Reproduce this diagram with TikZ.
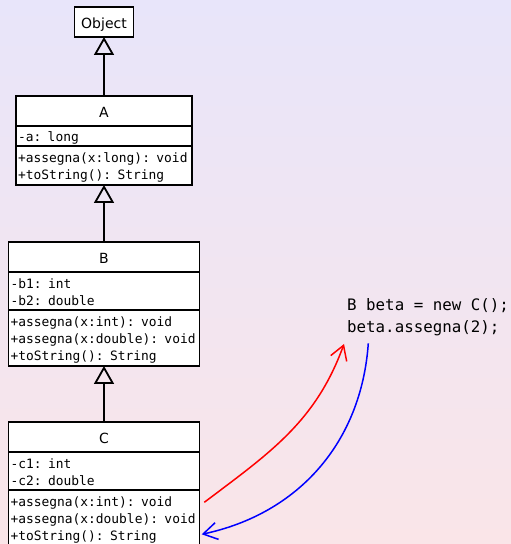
\documentclass[tikz,border=0pt]{standalone}
\usepackage{fontspec}
\setmainfont{DejaVu Sans}
\setmonofont{DejaVu Sans Mono}
\usepackage{tikz}
\usetikzlibrary{arrows.meta,calc,positioning}
\definecolor{bgtop}{HTML}{E8E5FA}
\definecolor{bgbottom}{HTML}{FAE5E8}
\definecolor{callred}{HTML}{FF0000}
\definecolor{callblue}{HTML}{0000FF}
\tikzset{
  classtitle/.style={
    draw=black,
    line width=1.8pt,
    fill=white,
    font=\fontsize{14}{17}\selectfont,
    text height=13pt,
    text depth=0pt,
    inner sep=0pt,
    outer sep=0pt,
    minimum height=30pt
  },
  classpart/.style={
    draw=black,
    line width=1.8pt,
    fill=white,
    align=left,
    font=\fontsize{12.9}{17}\selectfont\ttfamily,
    inner xsep=2pt,
    inner ysep=0pt,
    outer sep=0pt,
    execute at begin node={\rule{0pt}{14.5pt}},
    execute at end node={\rule[-2.5pt]{0pt}{2.5pt}}
  },
  generalization/.style={line width=1.8pt, draw=black, -{Triangle[open, length=18pt, width=20pt]}},
  callpath/.style={line width=1.5pt, -{Straight Barb[length=14pt, width=17pt]}},
  codetext/.style={font=\fontsize{15.8}{21.7}\selectfont\ttfamily, align=left, inner sep=0pt}
}

\begin{document}
\begin{tikzpicture}[x=1pt,y=1pt]
\useasboundingbox (0,0) rectangle (511,544);
\shade[top color=bgtop, bottom color=bgbottom] (0,0) rectangle (511,544);

% classes
\node[classtitle, minimum width=59pt, inner xsep=6pt] (object) at (104,522) {Object};

\node[classtitle, minimum width=176pt, anchor=north west] (a) at (16,448) {A};
\node[classpart, text width=172pt, minimum height=20pt, anchor=north west] (aattr) at (a.south west) {-a: long};
\node[classpart, text width=172pt, minimum height=39pt, anchor=north west] (ameth) at (aattr.south west) {+assegna(x:long): void\\+toString(): String};

\node[classtitle, minimum width=191pt, anchor=north west] (b) at (8.5,302) {B};
\node[classpart, text width=187pt, minimum height=38pt, anchor=north west] (battr) at (b.south west) {-b1: int\\-b2: double};
\node[classpart, text width=187pt, minimum height=56pt, anchor=north west] (bmeth) at (battr.south west) {+assegna(x:int): void\\+assegna(x:double): void\\+toString(): String};

\node[classtitle, minimum width=191pt, anchor=north west] (c) at (8.5,122) {C};
\node[classpart, text width=187pt, minimum height=38pt, anchor=north west] (cattr) at (c.south west) {-c1: int\\-c2: double};
\node[classpart, text width=187pt, minimum height=56pt, anchor=north west] (cmeth) at (cattr.south west) {+assegna(x:int): void\\+assegna(x:double): void\\+toString(): String};

\foreach \a/\b in {a/object,b/ameth,c/bmeth}
  \draw[generalization] (\a.north) -- (\b.south);

% code
\node[codetext, anchor=base west] (code) at (347,211.6) {B beta = new C();\\beta.assegna(2);};
\coordinate (callin) at (344,200);
\coordinate (callout) at (368.3,200.7);

\draw[callpath, callred] ($(cmeth.north east)+(4.8,-12.3)$) to[out=37,in=250] (callin);
\draw[callpath, callblue] (callout) to[out=266,in=12] ($(cmeth.north east)+(2.2,-44.3)$);
\end{tikzpicture}
\end{document}
